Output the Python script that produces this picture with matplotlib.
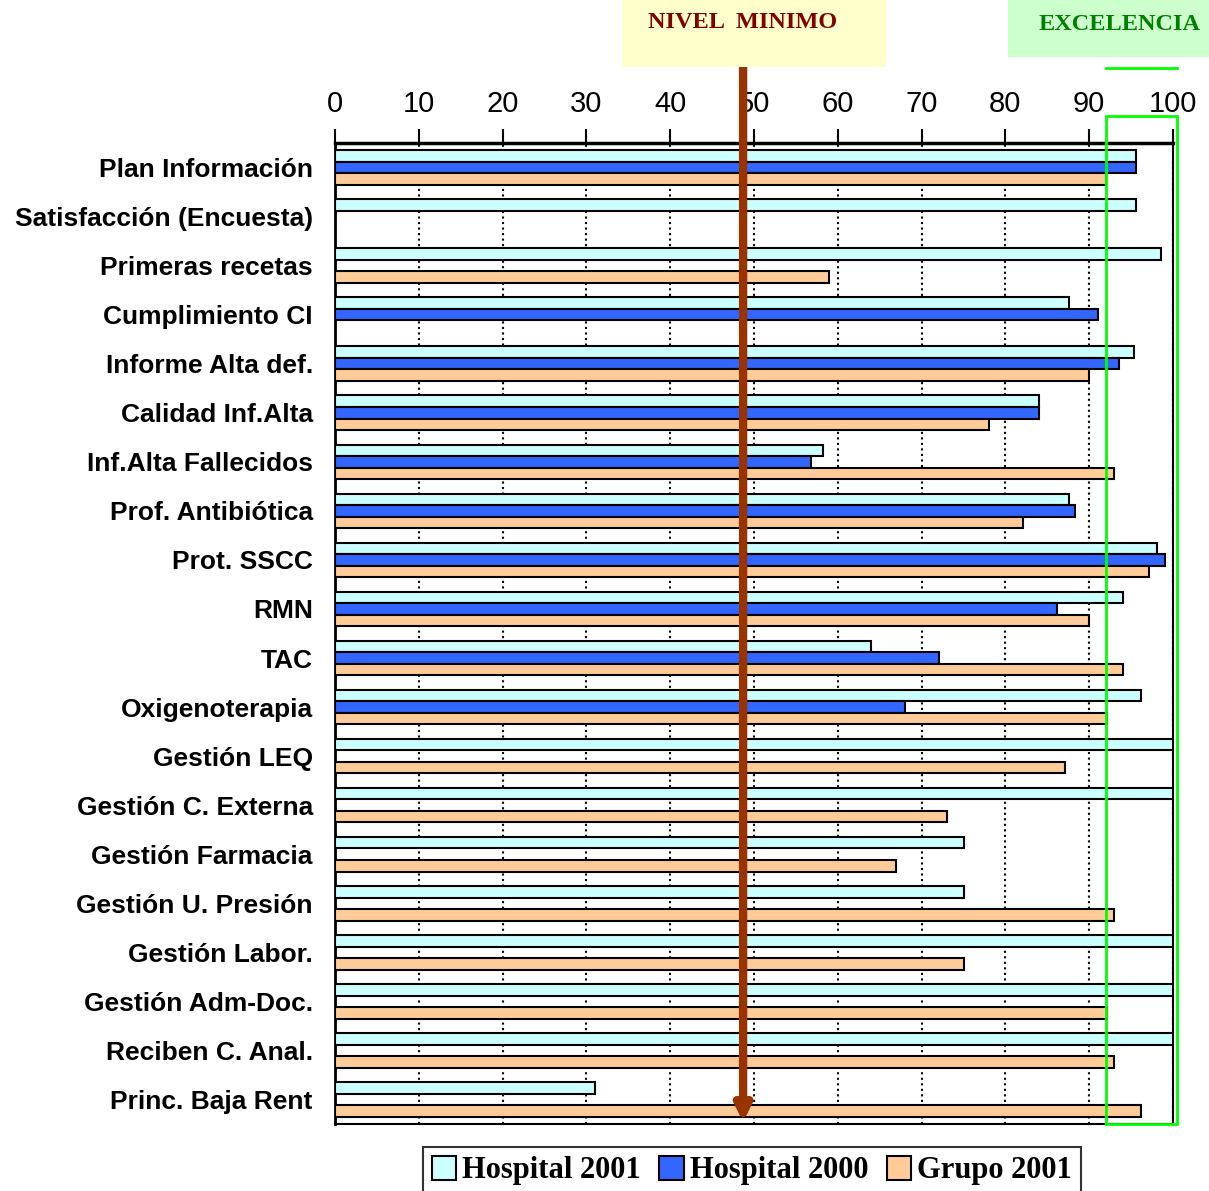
import numpy as np
import matplotlib.pyplot as plt
from matplotlib.patches import Rectangle
import matplotlib.transforms as mtransforms

# datos
categorias = ["Plan Información", "Satisfacción (Encuesta)", "Primeras recetas",
              "Cumplimiento CI", "Informe Alta def.", "Calidad Inf.Alta",
              "Inf.Alta Fallecidos", "Prof. Antibiótica", "Prot. SSCC", "RMN",
              "TAC", "Oxigenoterapia", "Gestión LEQ", "Gestión C. Externa",
              "Gestión Farmacia", "Gestión U. Presión", "Gestión Labor.",
              "Gestión Adm-Doc.", "Reciben C. Anal.", "Princ. Baja Rent"]
nan = np.nan
hospital_2001 = [95.6, 95.6, 98.6, 87.6, 95.4, 84.0, 58.2, 87.6, 98.1, 94.0,
                 64.0, 96.2, 100, 100, 75.0, 75.0, 100, 100, 100, 31.0]
hospital_2000 = [95.6, nan, nan, 91.0, 93.5, 84.0, 56.8, 88.3, 99.0, 86.2,
                 72.1, 68.0, nan, nan, nan, nan, nan, nan, nan, nan]
grupo_2001 = [92.0, nan, 59.0, nan, 90.0, 78.0, 93.0, 82.1, 97.1, 90.0,
              94.0, 92.1, 87.1, 73.0, 67.0, 93.0, 75.0, 92.1, 93.0, 96.2]
series = ["Hospital 2001", "Hospital 2000", "Grupo 2001"]
colores = ["#CCFFFF", "#3366FF", "#FFCC99"]
nivel_minimo = 48.7
excelencia = (92, 100.5)
xticks = list(range(0, 101, 10))

fig = plt.figure(figsize=(12.09, 11.91), dpi=100)
ax = fig.add_axes([335/1209, 1-1124/1191, (1173-335)/1209, (1124-143)/1191])

y = np.arange(len(categorias))
h = 0.235
for i, (vals, nombre, col) in enumerate(zip([hospital_2001, hospital_2000, grupo_2001], series, colores)):
    ax.barh(y + (i-1)*h, vals, height=h, color=col, edgecolor="black",
            linewidth=1.5, label=nombre, zorder=3)

ax.set_xlim(0, 100)
ax.set_ylim(len(categorias)-0.5, -0.5)
ax.xaxis.tick_top()
ax.set_xticks(xticks)
ax.tick_params(axis="x", direction="out", length=10, width=1.5, pad=8,
               labelsize=21)
for t in ax.get_xticklabels():
    t.set_family("Liberation Sans")
ax.set_yticks(y)
ax.set_yticklabels(categorias, family="Liberation Sans", weight="bold", fontsize=19)
ax.tick_params(axis="y", length=0, pad=16)
ax.grid(axis="x", linestyle=":", color="black", linewidth=1.5, zorder=0)
ax.grid(axis="y", visible=False)
for s in ax.spines.values():
    s.set_color("black")
    s.set_linewidth(1.5)
ax.spines["top"].set_linewidth(2.5)
ax.spines["left"].set_linewidth(2)

# zona de excelencia
ax.add_patch(Rectangle((excelencia[0], -1.05), excelencia[1]-excelencia[0], len(categorias) + 0.55,
                       fill=False, edgecolor="#00FF00", linewidth=2, zorder=5, clip_on=False))
trans = mtransforms.blended_transform_factory(ax.transData, fig.transFigure)
ax.plot([excelencia[0], excelencia[1]], [1-68/1191, 1-68/1191], color="#00FF00",
        linewidth=2, transform=trans, clip_on=False, zorder=5)

# nivel minimo flecha
ax.annotate("", xy=(nivel_minimo, 1-1122/1191), xycoords=trans,
            xytext=(nivel_minimo, 1-42/1191), textcoords=trans,
            arrowprops=dict(arrowstyle="-|>,head_width=0.45,head_length=0.9",
                            color="#993300", lw=6, shrinkA=0, shrinkB=0),
            zorder=10, annotation_clip=False)

fig.patches.append(Rectangle((622/1209, 1-67/1191), 264/1209, 67/1191,
                             transform=fig.transFigure, facecolor="#FFFFCC",
                             edgecolor="none", zorder=0))
fig.patches.append(Rectangle((1008/1209, 1-57/1191), 201/1209, 57/1191,
                             transform=fig.transFigure, facecolor="#CCFFCC",
                             edgecolor="none", zorder=0))
fig.text(743/1209, 1-23/1191, "NIVEL  MINIMO", ha="center", va="center",
         family="Liberation Serif", weight="bold", fontsize=17.5, color="#800000")
fig.text(1120/1209, 1-25/1191, "EXCELENCIA", ha="center", va="center",
         family="Liberation Serif", weight="bold", fontsize=17.5, color="#008000")

leg = fig.legend(loc="upper center", bbox_to_anchor=(752/1209, 1-1147/1191), ncol=3,
                 frameon=True, fancybox=False, edgecolor="black",
                 prop=dict(family="Liberation Serif", weight="bold", size=22),
                 handlelength=0.8, handleheight=0.8, handletextpad=0.2,
                 columnspacing=0.6, borderpad=0.3, borderaxespad=0)
leg.get_frame().set_linewidth(1.5)

fig.savefig("out.png", dpi=100)
